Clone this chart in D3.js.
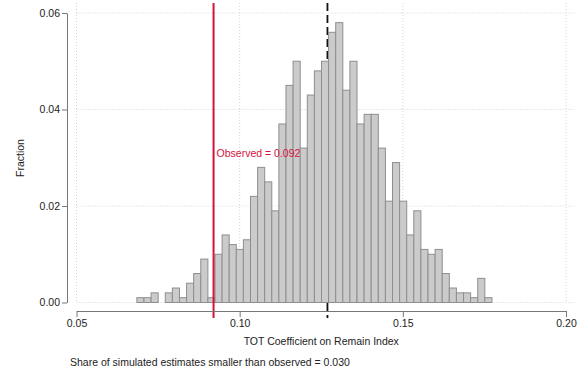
<!DOCTYPE html>
<html><head><meta charset="utf-8">
<script src="https://cdn.jsdelivr.net/npm/d3@7"></script>
<style>body{margin:0;background:#fff;}svg{display:block;font-family:"Liberation Sans",Arial,sans-serif;}</style>
</head><body>
<script>
// Histogram: fraction of 1000 simulated estimates per bin
const binStart = 0.0685;
const binWidth = 0.002176;
const fractions = [0.001,0.001,0.002,0.000,0.002,0.003,0.001,0.004,0.006,0.009,
  0.001,0.010,0.014,0.012,0.011,0.013,0.022,0.028,0.025,0.019,
  0.037,0.045,0.050,0.032,0.043,0.048,0.050,0.056,0.058,0.044,
  0.050,0.037,0.039,0.039,0.032,0.021,0.029,0.021,0.014,0.019,
  0.011,0.010,0.011,0.006,0.003,0.002,0.002,0.001,0.005,0.001];
const xTicks = [0.05, 0.10, 0.15, 0.20];
const yTicks = [0.00, 0.02, 0.04, 0.06];
const observed = 0.092;
const meanSim = 0.1269;
const xTitle = "TOT Coefficient on Remain Index";
const yTitle = "Fraction";
const noteText = "Share of simulated estimates smaller than observed = 0.030";
const obsLabel = "Observed = 0.092";

const W = 579, H = 374;
const svg = d3.select("body").append("svg").attr("width", W).attr("height", H);
const x = d3.scaleLinear().domain([0.05, 0.20]).range([76.5, 566]);
const y = d3.scaleLinear().domain([0, 0.06]).range([302.5, 13]);
const plotTop = 3, plotRight = 575;

// grid
const grid = svg.append("g").attr("stroke", "#d4d4d4").attr("stroke-width", 1).attr("stroke-dasharray", "1,2");
grid.selectAll("line.h").data(yTicks).join("line")
  .attr("x1", x(0.05)).attr("x2", plotRight).attr("y1", d => y(d)).attr("y2", d => y(d));
grid.selectAll("line.v").data(xTicks).join("line")
  .attr("x1", d => x(d)).attr("x2", d => x(d)).attr("y1", plotTop).attr("y2", y(0));

// dashed mean line (under bars)
svg.append("line").attr("x1", x(meanSim)).attr("x2", x(meanSim)).attr("y1", plotTop).attr("y2", 318)
  .attr("stroke", "#111").attr("stroke-width", 1.8).attr("stroke-dasharray", "8,4");

// bars
svg.append("g").selectAll("rect").data(fractions).join("rect")
  .attr("x", (d, i) => x(binStart + i * binWidth))
  .attr("width", (d, i) => x(binStart + (i + 1) * binWidth) - x(binStart + i * binWidth))
  .attr("y", d => y(d))
  .attr("height", d => y(0) - y(d))
  .attr("fill", d => d > 0 ? "#cbcbcb" : "none")
  .attr("stroke", d => d > 0 ? "#8e8e8e" : "none")
  .attr("stroke-width", 1);

// observed line
svg.append("line").attr("x1", x(observed)).attr("x2", x(observed)).attr("y1", plotTop).attr("y2", 318)
  .attr("stroke", "#d3123c").attr("stroke-width", 2);
svg.append("text").attr("x", x(observed) + 3).attr("y", y(0.0301)).attr("fill", "#d3123c")
  .attr("font-size", 10.5).text(obsLabel);

// y axis
const ya = svg.append("g").attr("transform", "translate(67,0)")
  .call(d3.axisLeft(y).tickValues(yTicks).tickFormat(d3.format(".2f")).tickSize(5).tickSizeOuter(0));
ya.select(".domain").attr("stroke", "#777");
ya.selectAll(".tick line").attr("stroke", "#777");
ya.selectAll(".tick text").attr("font-size", 10.5).attr("fill", "#222").attr("x", -7).style("font-family", "Liberation Sans, Arial, sans-serif");

// x axis
const xa = svg.append("g").attr("transform", "translate(0,311)")
  .call(d3.axisBottom(x).tickValues(xTicks).tickFormat(d3.format(".2f")).tickSize(6).tickSizeOuter(0));
xa.select(".domain").attr("stroke", "#777");
xa.selectAll(".tick line").attr("stroke", "#777");
xa.selectAll(".tick text").attr("font-size", 10.5).attr("fill", "#222").attr("y", 9).style("font-family", "Liberation Sans, Arial, sans-serif");

// titles
svg.append("text").attr("x", (x(0.05) + x(0.20)) / 2).attr("y", 345).attr("text-anchor", "middle")
  .attr("font-size", 10.5).attr("fill", "#222").text(xTitle);
svg.append("text").attr("transform", "translate(24,158) rotate(-90)").attr("text-anchor", "middle")
  .attr("font-size", 10.5).attr("fill", "#222").text(yTitle);
svg.append("text").attr("x", 70).attr("y", 366).attr("font-size", 10.5).attr("fill", "#222").text(noteText);
</script>
</body></html>
